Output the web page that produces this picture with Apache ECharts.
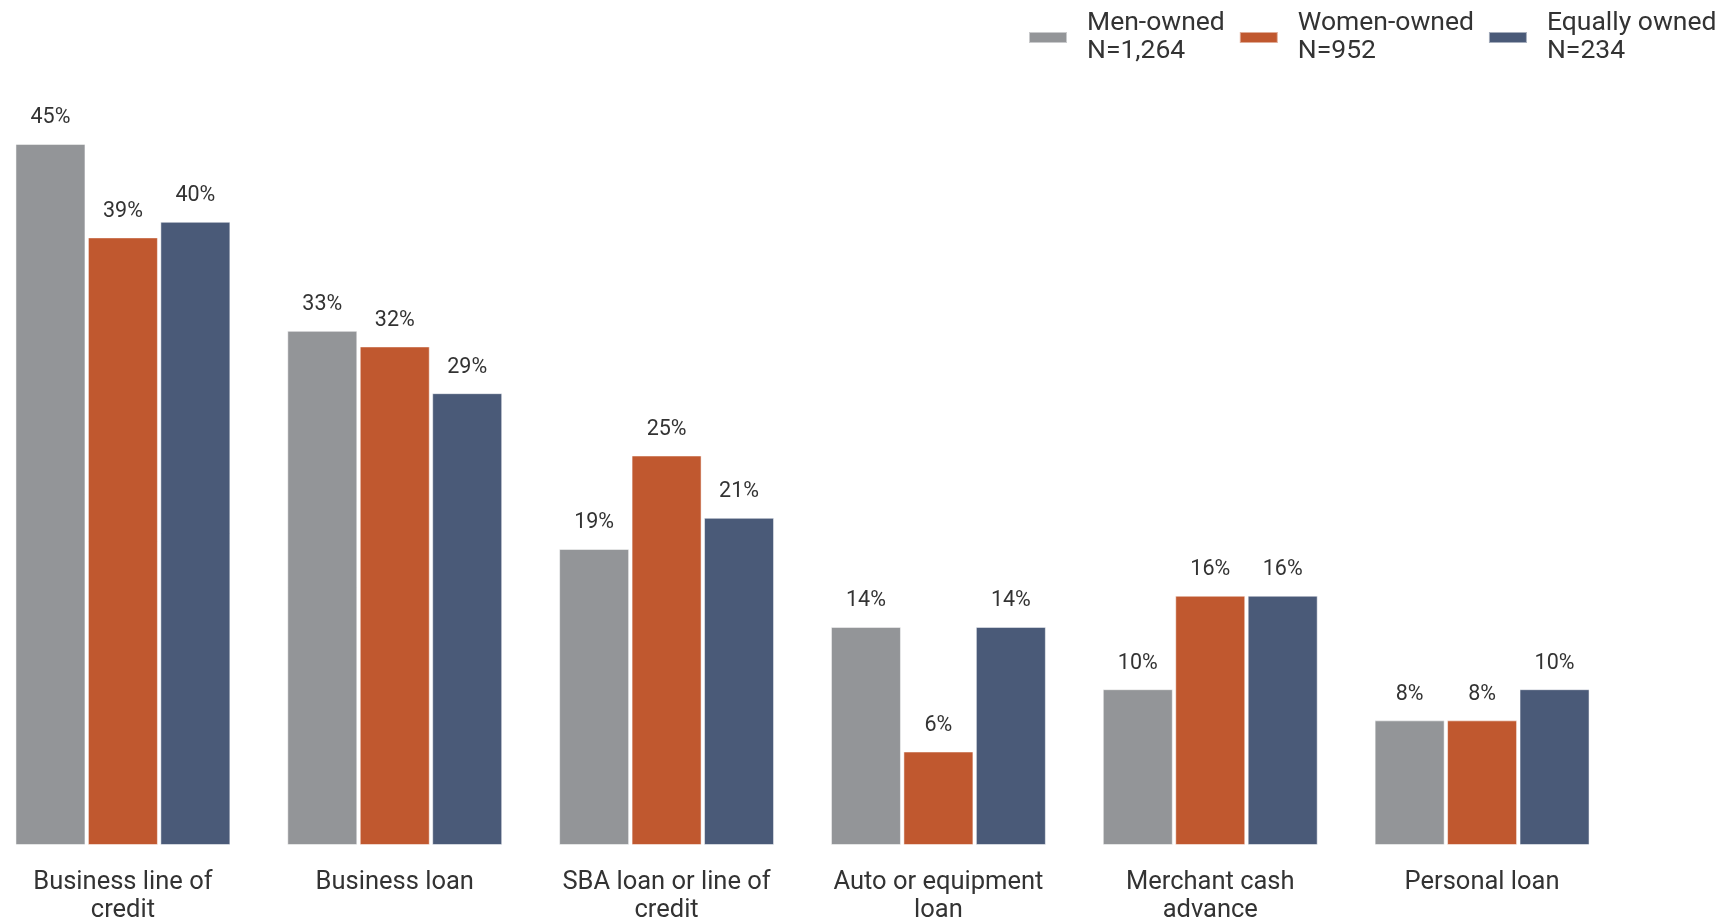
<!DOCTYPE html>
<html>
<head>
<meta charset="utf-8">
<script src="https://cdn.jsdelivr.net/npm/echarts@6/dist/echarts.min.js"></script>
<style>
html,body{margin:0;padding:0;background:#fff;}
#chart{width:1727px;height:922px;}
</style>
</head>
<body>
<div id="chart"></div>
<script>
const categories = ["Business line of\ncredit", "Business loan", "SBA loan or line of\ncredit", "Auto or equipment\nloan", "Merchant cash\nadvance", "Personal loan"];
const seriesNames = ["Men-owned", "Women-owned", "Equally owned"];
const sampleSizes = ["N=1,264", "N=952", "N=234"];
const menOwned = [45, 33, 19, 14, 10, 8];
const womenOwned = [39, 32, 25, 6, 16, 8];
const equallyOwned = [40, 29, 21, 14, 16, 10];
const colors = ["#939598", "#C0582F", "#4A5A78"];

const values = [menOwned, womenOwned, equallyOwned];
const chart = echarts.init(document.getElementById('chart'));
chart.setOption({
  animation: false,
  backgroundColor: '#ffffff',
  textStyle: { fontFamily: 'Roboto, sans-serif' },
  legend: {
    left: 1028,
    top: 10,
    padding: 0,
    itemWidth: 38,
    itemHeight: 11,
    itemGap: 14,
    icon: 'rect',
    data: seriesNames,
    formatter: function (name) {
      return name + '\n' + sampleSizes[seriesNames.indexOf(name)];
    },
    textStyle: { fontSize: 26.5, lineHeight: 27.5, color: '#333333', padding: [0, 0, 0, 15] }
  },
  grid: { left: -13, width: 1631, top: 66, bottom: 77, containLabel: false, outerBoundsMode: 'none' },
  xAxis: {
    type: 'category',
    data: categories,
    axisLine: { show: false },
    axisTick: { show: false },
    axisLabel: { fontSize: 25.5, lineHeight: 27.5, color: '#333333', margin: 24, interval: 0 }
  },
  yAxis: {
    type: 'value',
    min: 0,
    max: 50,
    show: false,
    splitLine: { show: false }
  },
  series: seriesNames.map(function (n, i) {
    return {
      name: n,
      type: 'bar',
      data: values[i],
      barWidth: 70,
      barGap: '3.5%',
      itemStyle: { color: colors[i], borderColor: 'rgba(255,255,255,0.5)', borderWidth: 1 },
      label: {
        show: true,
        position: 'top',
        distance: 15,
        formatter: '{c}%',
        fontSize: 21.5,
        color: '#333333'
      }
    };
  })
});
</script>
</body>
</html>
